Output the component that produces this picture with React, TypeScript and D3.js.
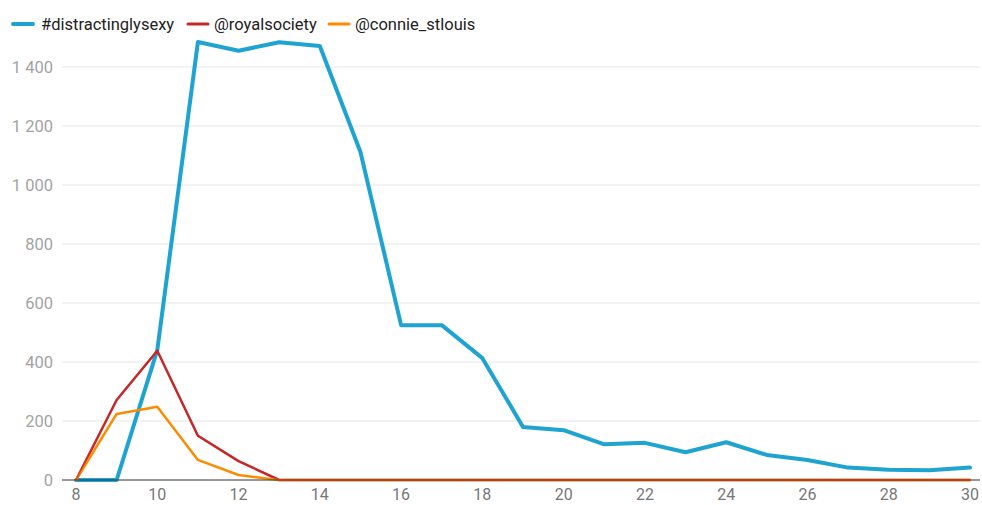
import { useEffect, useRef } from "react"
import * as d3 from "d3"

const days = d3.range(8, 31)
const hashtag = [0, 0, 440, 1485, 1455, 1484, 1471, 1112, 525, 525, 413, 180, 169, 121, 126, 94, 128, 85, 68, 42, 35, 33, 42]
const royal = [0, 271, 438, 150, 64, 0, 0, 0, 0, 0, 0, 0, 0, 0, 0, 0, 0, 0, 0, 0, 0, 0, 0]
const connie = [0, 224, 248, 68, 17, 0, 0, 0, 0, 0, 0, 0, 0, 0, 0, 0, 0, 0, 0, 0, 0, 0, 0]
const yTicks = [0, 200, 400, 600, 800, 1000, 1200, 1400]
const xTicks = [8, 10, 12, 14, 16, 18, 20, 22, 24, 26, 28, 30]

const series = [
  { name: "#distractinglysexy", values: hashtag, color: "#1fa3d1", width: 4 },
  { name: "@royalsociety", values: royal, color: "#c62828", width: 2.5 },
  { name: "@connie_stlouis", values: connie, color: "#fb8c00", width: 2.5 },
]

export default function App() {
  const svgRef = useRef<SVGSVGElement>(null)

  useEffect(() => {
    if (!svgRef.current) return
    const svg = d3.select(svgRef.current)
    svg.selectAll("*").remove()

    const font = "Roboto, sans-serif"

    const x = d3.scaleLinear().domain([8, 30]).range([76, 970])
    const y = d3.scaleLinear().domain([0, 1400]).range([480, 67])

    const g = svg.append("g")

    // gridlines
    g.selectAll("line.grid")
      .data(yTicks.filter(t => t > 0))
      .enter()
      .append("line")
      .attr("x1", 62)
      .attr("x2", 980)
      .attr("y1", d => y(d))
      .attr("y2", d => y(d))
      .attr("stroke", "#e6e6e6")
      .attr("stroke-width", 1)

    g.selectAll("text.ytick")
      .data(yTicks)
      .enter()
      .append("text")
      .attr("x", 53)
      .attr("y", d => y(d) + 6)
      .attr("text-anchor", "end")
      .style("font-family", font)
      .style("font-size", "16.5px")
      .style("fill", "#a3a3a3")
      .text(d => d3.format(",")(d).replace(",", " "))

    g.selectAll("text.xtick")
      .data(xTicks)
      .enter()
      .append("text")
      .attr("x", d => x(d))
      .attr("y", 500)
      .attr("text-anchor", "middle")
      .style("font-family", font)
      .style("font-size", "16px")
      .style("fill", "#777")
      .text(d => String(d))

    const line = d3.line<number>()
      .x((_, i) => x(days[i]))
      .y(d => y(d))

    series.forEach(s => {
      g.append("path")
        .datum(s.values)
        .attr("fill", "none")
        .attr("stroke", s.color)
        .attr("stroke-width", s.width)
        .attr("stroke-linejoin", "round")
        .attr("stroke-linecap", "round")
        .attr("d", line)
    })

    // baseline
    g.append("line")
      .attr("x1", 62)
      .attr("x2", 980)
      .attr("y1", y(0))
      .attr("y2", y(0))
      .attr("stroke", "#333")
      .attr("stroke-width", 1)

    // red stays visible over the baseline, as in the reference
    g.append("path")
      .datum(royal)
      .attr("fill", "none")
      .attr("stroke", "#c62828")
      .attr("stroke-width", 1.5)
      .attr("d", line)
      .attr("opacity", 0.6)

    // legend
    const legendX = [12, 187, 328]
    series.forEach((s, i) => {
      const lg = svg.append("g").attr("transform", `translate(${legendX[i]},24)`)
      lg.append("line")
        .attr("x1", 1)
        .attr("x2", 21)
        .attr("y1", 0)
        .attr("y2", 0)
        .attr("stroke", s.color)
        .attr("stroke-width", i === 0 ? 4 : 3)
        .attr("stroke-linecap", "round")
      lg.append("text")
        .attr("x", i === 0 ? 29 : 27)
        .attr("y", 6)
        .style("font-family", font)
        .style("font-size", "16.5px")
        .style("fill", "#222")
        .text(s.name)
    })
  }, [])

  return (
    <svg ref={svgRef} width={982} height={505} style={{ position: "absolute", left: 0, top: 0 }} />
  )
}
